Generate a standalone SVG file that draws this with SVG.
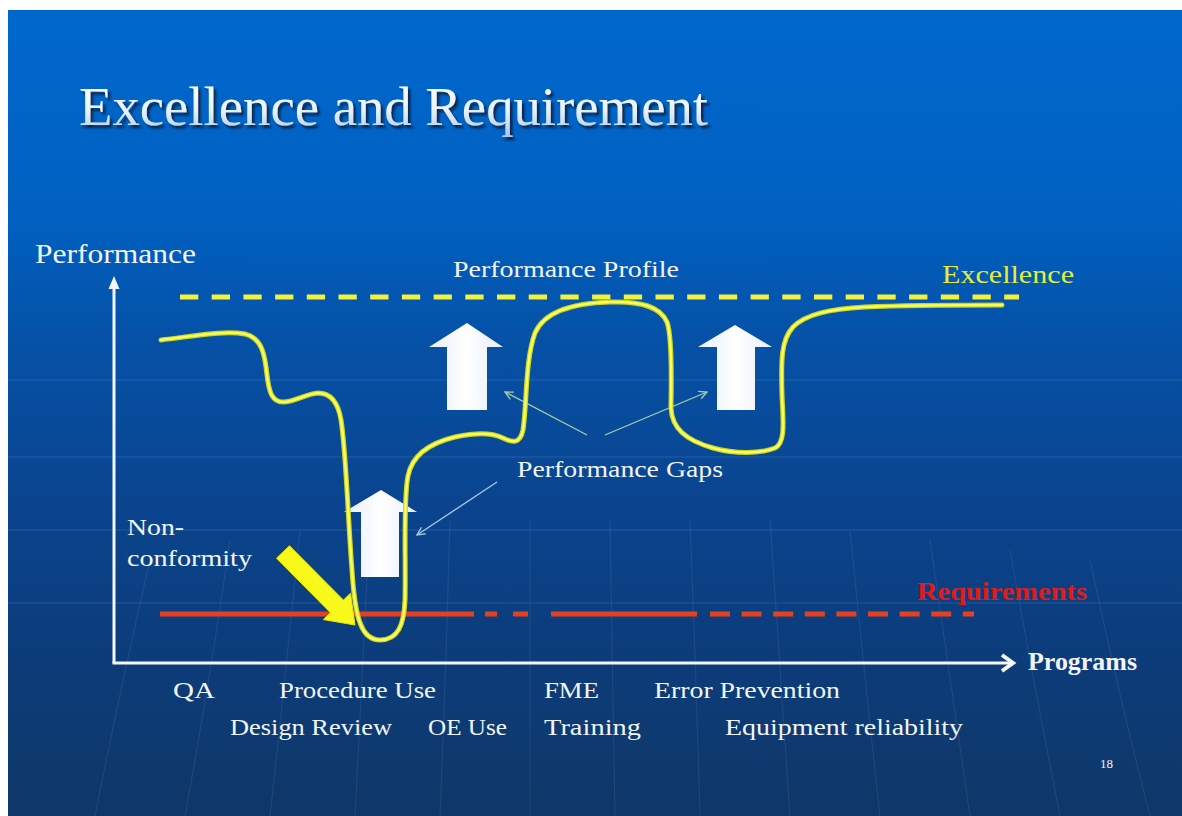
<svg xmlns="http://www.w3.org/2000/svg" width="1182" height="816" viewBox="0 0 1182 816">
  <defs>
    <linearGradient id="bg" x1="0" y1="0" x2="0" y2="1">
      <stop offset="0" stop-color="#0068cc"/>
      <stop offset="0.25" stop-color="#0061c2"/>
      <stop offset="0.4" stop-color="#0552a8"/>
      <stop offset="0.6" stop-color="#0a4590"/>
      <stop offset="0.8" stop-color="#0c3c7a"/>
      <stop offset="1" stop-color="#0f3868"/>
    </linearGradient>
    <linearGradient id="titleFill" x1="0" y1="0" x2="0" y2="1">
      <stop offset="0" stop-color="#ffffff"/>
      <stop offset="0.55" stop-color="#e8f2fc"/>
      <stop offset="1" stop-color="#a8c8ea"/>
    </linearGradient>
    <linearGradient id="blockFill" x1="0" y1="0" x2="1" y2="0">
      <stop offset="0" stop-color="#e6eef8"/>
      <stop offset="0.5" stop-color="#ffffff"/>
      <stop offset="1" stop-color="#e6eef8"/>
    </linearGradient>
    <filter id="titleShadow" x="-5%" y="-20%" width="110%" height="150%">
      <feDropShadow dx="2.5" dy="3" stdDeviation="1.2" flood-color="#071d3e" flood-opacity="0.9"/>
    </filter>
    <marker id="mGreen" viewBox="0 0 10 10" refX="9" refY="5" markerWidth="10" markerHeight="10" markerUnits="userSpaceOnUse" orient="auto">
      <path d="M1,1 L9,5 L1,9" fill="none" stroke="#a6d0a2" stroke-width="1.3"/>
    </marker>
    <marker id="mBlue" viewBox="0 0 10 10" refX="9" refY="5" markerWidth="10" markerHeight="10" markerUnits="userSpaceOnUse" orient="auto">
      <path d="M1,1 L9,5 L1,9" fill="none" stroke="#a8cce8" stroke-width="1.3"/>
    </marker>
    <style>
      .lbl { font-family: "Liberation Serif", "Times New Roman", serif; fill: #f2f5f9; }
      .small { font-size: 24px; }
      .axis { stroke: #f4f7fa; stroke-width: 3; fill: none; }
      .grid { stroke: #ffffff; stroke-opacity: 0.08; stroke-width: 1.5; fill: none; }
      .meridian { stroke: #ffffff; stroke-opacity: 0.07; stroke-width: 1.2; fill: none; }
      .block { fill: url(#blockFill); }
      .ptrG { stroke: #a6d0a2; stroke-width: 1.3; fill: none; marker-end: url(#mGreen); }
      .ptrB { stroke: #a8cce8; stroke-width: 1.3; fill: none; marker-end: url(#mBlue); }
    </style>
  </defs>

  <g id="background">
    <rect x="0" y="0" width="1182" height="816" fill="#ffffff"/>
    <rect x="8" y="10" width="1174" height="806" fill="url(#bg)"/>
    <line class="grid" x1="8" y1="380" x2="1182" y2="380"/>
    <line class="grid" x1="8" y1="457" x2="1182" y2="457"/>
    <line class="grid" x1="8" y1="530" x2="1182" y2="530"/>
    <line class="grid" x1="8" y1="603" x2="1182" y2="603"/>
    <path class="meridian" d="M150,560 Q120,690 95,816"/>
    <path class="meridian" d="M230,540 Q210,680 185,816"/>
    <path class="meridian" d="M300,530 Q285,680 270,816"/>
    <path class="meridian" d="M370,520 Q362,670 355,816"/>
    <path class="meridian" d="M450,520 Q446,670 440,816"/>
    <path class="meridian" d="M530,520 Q530,670 530,816"/>
    <path class="meridian" d="M610,520 Q612,670 615,816"/>
    <path class="meridian" d="M690,520 Q696,670 700,816"/>
    <path class="meridian" d="M770,520 Q780,670 790,816"/>
    <path class="meridian" d="M850,530 Q865,680 880,816"/>
    <path class="meridian" d="M930,540 Q950,680 970,816"/>
    <path class="meridian" d="M1010,550 Q1035,690 1060,816"/>
    <path class="meridian" d="M1090,560 Q1120,700 1150,816"/>
  </g>

  <g id="title">
    <text x="79" y="125" font-family="Liberation Serif, Times New Roman, serif" font-size="54" fill="url(#titleFill)" filter="url(#titleShadow)" textLength="629" lengthAdjust="spacingAndGlyphs">Excellence and Requirement</text>
  </g>

  <g id="axes">
    <line class="axis" x1="114" y1="663" x2="114" y2="286"/>
    <polygon points="114,276 108.5,289 119.5,289" fill="#f4f7fa"/>
    <line class="axis" x1="112.5" y1="663" x2="1010" y2="663"/>
    <path d="M1002,655 L1013,663 L1002,671" fill="none" stroke="#f4f7fa" stroke-width="4" stroke-linejoin="miter"/>
    <text id="ylabel" class="lbl" x="35" y="263" font-size="27" textLength="161" lengthAdjust="spacingAndGlyphs">Performance</text>
    <text id="xlabel" class="lbl" x="1028" y="670" font-size="25" font-weight="bold" textLength="109" lengthAdjust="spacingAndGlyphs">Programs</text>
  </g>

  <g id="excellence-line">
    <line x1="180" y1="297" x2="1019" y2="297" stroke="#f2f23c" stroke-width="5" stroke-dasharray="18.3 13.4"/>
    <text class="lbl" x="453" y="277" font-size="24" textLength="226" lengthAdjust="spacingAndGlyphs">Performance Profile</text>
    <text x="942" y="283" font-family="Liberation Serif, Times New Roman, serif" font-size="26" fill="#e2ee3a" textLength="132" lengthAdjust="spacingAndGlyphs">Excellence</text>
  </g>

  <g id="requirements-line">
    <g stroke="#e8401e" stroke-width="5" fill="none">
      <line x1="160" y1="614" x2="474" y2="614"/>
      <line x1="485" y1="614" x2="497" y2="614"/>
      <line x1="513" y1="614" x2="528" y2="614"/>
      <line x1="551" y1="614" x2="697" y2="614"/>
      <line x1="710" y1="614" x2="974" y2="614" stroke-dasharray="20 11.6"/>
    </g>
    <text x="917" y="600" font-family="Liberation Serif, Times New Roman, serif" font-size="26" font-weight="bold" fill="#e01c18" textLength="170" lengthAdjust="spacingAndGlyphs">Requirements</text>
  </g>

  <g id="gap-arrows">
    <polygon id="gapA" class="block" points="467,323 503,347 487,347 487,410 447,410 447,347 429,347"/>
    <polygon id="gapB" class="block" points="735,325 772,347 755,347 755,410 717,410 717,347 698,347"/>
    <polygon id="gapC" class="block" points="381,490 417,512 399,512 399,577 361,577 361,512 344,512"/>
  </g>

  <g id="connectors">
    <line class="ptrG" x1="587" y1="435" x2="505" y2="392"/>
    <line class="ptrG" x1="605" y1="435" x2="707" y2="392"/>
    <line class="ptrB" x1="497" y1="482" x2="417" y2="535"/>
  </g>

  <g id="nonconformity">
    <text class="lbl" x="127" y="535" font-size="24" textLength="57" lengthAdjust="spacingAndGlyphs">Non-</text>
    <text class="lbl" x="127" y="566" font-size="24" textLength="125" lengthAdjust="spacingAndGlyphs">conformity</text>
    <polygon points="276.5,558.2 289.5,545.8 343.4,600.1 350.5,593.2 355,625 323.3,619.6 330.4,612.7" fill="#f8f81a" stroke="#e6e600" stroke-width="1"/>
  </g>

  <g id="performance-curve" fill="none" stroke-linecap="round" stroke-linejoin="round">
    <path id="curveOuter" stroke="#c6d62a" stroke-width="5" d="M161,340 C195,336 225,330 245,334 C262,338 265,355 267,375 C269,392 272,402 283,402 C295,402 305,394 318,393 C330,393 338,402 341,420 C346,450 348,520 352,570 C355,620 362,640 380,640 C398,640 404,625 405,600 C406,560 403,500 408,476 C412,455 430,443 455,437 C475,433 490,432 503,438 C513,443 520,444 523,430 C527,405 525,360 535,333 C545,310 575,303 610,302 C640,301 660,306 667,322 C673,338 671,390 671,408 C672,428 685,440 713,448 C735,454 760,454 775,448 C786,443 783,420 782,395 C781,360 781,340 793,327 C806,314 830,309 865,307 C910,305 960,305 1002,305"/>
    <path id="curveInner" stroke="#fbfb5a" stroke-width="2.5" d="M161,340 C195,336 225,330 245,334 C262,338 265,355 267,375 C269,392 272,402 283,402 C295,402 305,394 318,393 C330,393 338,402 341,420 C346,450 348,520 352,570 C355,620 362,640 380,640 C398,640 404,625 405,600 C406,560 403,500 408,476 C412,455 430,443 455,437 C475,433 490,432 503,438 C513,443 520,444 523,430 C527,405 525,360 535,333 C545,310 575,303 610,302 C640,301 660,306 667,322 C673,338 671,390 671,408 C672,428 685,440 713,448 C735,454 760,454 775,448 C786,443 783,420 782,395 C781,360 781,340 793,327 C806,314 830,309 865,307 C910,305 960,305 1002,305"/>
  </g>

  <g id="gaps-label">
    <text class="lbl" x="517" y="477" font-size="24" textLength="206" lengthAdjust="spacingAndGlyphs">Performance Gaps</text>
  </g>

  <g id="programs">
    <text class="lbl small" x="173" y="698" textLength="42" lengthAdjust="spacingAndGlyphs">QA</text>
    <text class="lbl small" x="279" y="698" textLength="157" lengthAdjust="spacingAndGlyphs">Procedure Use</text>
    <text class="lbl small" x="544" y="698" textLength="55" lengthAdjust="spacingAndGlyphs">FME</text>
    <text class="lbl small" x="654" y="698" textLength="186" lengthAdjust="spacingAndGlyphs">Error Prevention</text>
    <text class="lbl small" x="230" y="735" textLength="162" lengthAdjust="spacingAndGlyphs">Design Review</text>
    <text class="lbl small" x="428" y="735" textLength="79" lengthAdjust="spacingAndGlyphs">OE Use</text>
    <text class="lbl small" x="544" y="735" textLength="97" lengthAdjust="spacingAndGlyphs">Training</text>
    <text class="lbl small" x="725" y="735" textLength="238" lengthAdjust="spacingAndGlyphs">Equipment reliability</text>
  </g>

  <g id="page-number">
    <text class="lbl" x="1100" y="768" font-size="13">18</text>
  </g>
</svg>
